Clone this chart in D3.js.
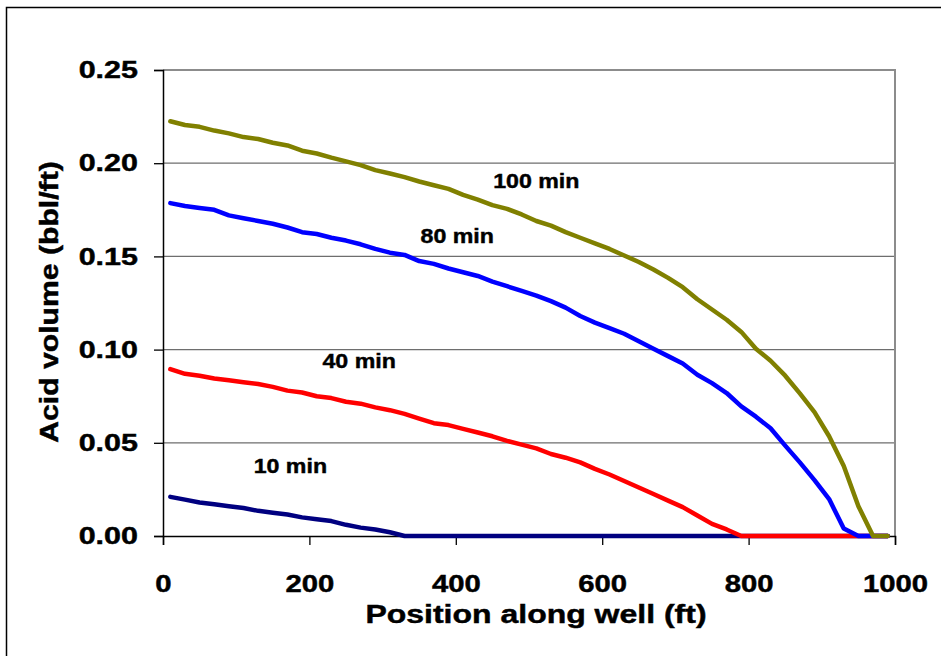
<!DOCTYPE html>
<html>
<head>
<meta charset="utf-8">
<script src="https://cdn.jsdelivr.net/npm/d3@7"></script>
<style>
  html, body { margin: 0; padding: 0; background: #fff; }
  svg { display: block; font-family: "Liberation Sans", Arial, sans-serif; }
  .heavy { stroke: #000; stroke-width: 0.45px; paint-order: stroke; }
</style>
</head>
<body>
<svg id="chart" width="941" height="656"></svg>
<script>
// Position along the well (ft) at which acid volume was computed
const positions = [10, 30, 50, 70, 90, 110, 130, 150, 170, 190,
  210, 230, 250, 270, 290, 310, 330, 350, 370, 390,
  410, 430, 450, 470, 490, 510, 530, 550, 570, 590,
  610, 630, 650, 670, 690, 710, 730, 750, 770, 790,
  810, 830, 850, 870, 890, 910, 930, 950, 970, 990];

// Acid volume per foot (bbl/ft) at each injection time
const acid10min = [0.0210, 0.0195, 0.0180, 0.0170, 0.0160, 0.0150, 0.0135, 0.0125, 0.0115, 0.0100,
  0.0090, 0.0080, 0.0060, 0.0045, 0.0035, 0.0020, 0, 0, 0, 0,
  0, 0, 0, 0, 0, 0, 0, 0, 0, 0,
  0, 0, 0, 0, 0, 0, 0, 0, 0, 0,
  0, 0, 0, 0, 0, 0, 0, 0, 0, 0];

const acid40min = [0.0895, 0.0870, 0.0860, 0.0845, 0.0835, 0.0825, 0.0815, 0.0800, 0.0780, 0.0770,
  0.0750, 0.0740, 0.0720, 0.0710, 0.0690, 0.0675, 0.0655, 0.0630, 0.0605, 0.0595,
  0.0575, 0.0555, 0.0535, 0.0510, 0.0490, 0.0470, 0.0440, 0.0420, 0.0395, 0.0360,
  0.0330, 0.0295, 0.0260, 0.0225, 0.0190, 0.0155, 0.0110, 0.0065, 0.0035, 0,
  0, 0, 0, 0, 0, 0, 0, 0, 0, 0];

const acid80min = [0.1786, 0.1770, 0.1760, 0.1750, 0.1720, 0.1705, 0.1690, 0.1675, 0.1655, 0.1630,
  0.1620, 0.1600, 0.1585, 0.1565, 0.1540, 0.1520, 0.1508, 0.1475, 0.1460, 0.1435,
  0.1415, 0.1395, 0.1365, 0.1340, 0.1315, 0.1290, 0.1260, 0.1225, 0.1180, 0.1145,
  0.1115, 0.1085, 0.1045, 0.1005, 0.0965, 0.0925, 0.0865, 0.0820, 0.0767, 0.0695,
  0.0640, 0.0578, 0.0485, 0.0395, 0.0300, 0.0198, 0.0040, 0, 0, 0];

const acid100min = [0.2225, 0.2205, 0.2195, 0.2175, 0.2160, 0.2140, 0.2130, 0.2110, 0.2095, 0.2067,
  0.2052, 0.2030, 0.2010, 0.1990, 0.1963, 0.1945, 0.1925, 0.1902, 0.1882, 0.1862,
  0.1830, 0.1805, 0.1775, 0.1755, 0.1725, 0.1690, 0.1665, 0.1630, 0.1600, 0.1570,
  0.1540, 0.1505, 0.1470, 0.1430, 0.1385, 0.1335, 0.1270, 0.1215, 0.1160, 0.1095,
  0.1005, 0.0940, 0.0860, 0.0765, 0.0665, 0.0535, 0.0375, 0.0160, 0, 0];

const xTicks = [0, 200, 400, 600, 800, 1000];
const yTicks = [0, 0.05, 0.10, 0.15, 0.20, 0.25];

const seriesNames = ["10 min", "40 min", "80 min", "100 min"];
const seriesValues = [acid10min, acid40min, acid80min, acid100min];
const seriesColors = ["#000080", "#ff0000", "#0000ff", "#808000"];
// Where each curve's time label sits, in data units (ft, bbl/ft)
const labelAnchors = [[174, 0.0338], [268, 0.0901], [402, 0.1572], [510, 0.1867]];

const svg = d3.select("#chart");
const plotLeft = 163, plotRight = 895, plotTop = 70, plotBottom = 536;

const x = d3.scaleLinear().domain([0, 1000]).range([plotLeft, plotRight]);
const y = d3.scaleLinear().domain([0, 0.25]).range([plotBottom, plotTop]);

// Outer chart frame
svg.append("rect")
  .attr("x", 6.5).attr("y", 7.5).attr("width", 1000).attr("height", 700)
  .attr("fill", "none").attr("stroke", "#000").attr("stroke-width", 1.5);

// Horizontal gridlines
svg.append("g").selectAll("line")
  .data(yTicks.filter(d => d > 0 && d < 0.25))
  .join("line")
  .attr("x1", plotLeft).attr("x2", plotRight)
  .attr("y1", d => y(d)).attr("y2", d => y(d))
  .attr("stroke", "#6e6e6e").attr("stroke-width", 1.3);

// Plot area border: top and right in grey
svg.append("path")
  .attr("d", `M${plotLeft},${y(0.25)}H${plotRight}V${plotBottom}`)
  .attr("fill", "none").attr("stroke", "#8c8c8c").attr("stroke-width", 2);

// Widen text horizontally to the chart's wide bold lettering
function widen(sel, k) {
  sel.each(function () {
    const w = this.getComputedTextLength();
    d3.select(this).attr("textLength", w * k).attr("lengthAdjust", "spacingAndGlyphs");
  });
}

// Axes
const xAxis = svg.append("g")
  .attr("transform", `translate(0,${plotBottom})`)
  .call(d3.axisBottom(x).tickValues(xTicks).tickFormat(d3.format("d")).tickSize(9).tickPadding(30));
const yAxis = svg.append("g")
  .attr("transform", `translate(${plotLeft},0)`)
  .call(d3.axisLeft(y).tickValues(yTicks).tickFormat(d3.format(".2f")).tickSize(9).tickPadding(16));

[xAxis, yAxis].forEach(a => {
  a.select(".domain").attr("stroke", "#000").attr("stroke-width", 1.5);
  a.selectAll(".tick line").attr("stroke", "#000").attr("stroke-width", 1.3);
  a.selectAll("text")
    .attr("fill", "#000")
    .attr("class", "heavy")
    .style("font-family", '"Liberation Sans", Arial, sans-serif')
    .style("font-weight", "bold")
    .style("font-size", "24px");
});
xAxis.selectAll("text").call(widen, 1.22);
yAxis.selectAll("text").call(widen, 1.27);

// Curves
const line = d3.line()
  .x((d, i) => x(positions[i]))
  .y(d => y(d));

svg.append("g").selectAll("path")
  .data(seriesValues)
  .join("path")
  .attr("d", line)
  .attr("fill", "none")
  .attr("stroke", (d, i) => seriesColors[i])
  .attr("stroke-width", 4.5)
  .attr("stroke-linejoin", "round")
  .attr("stroke-linecap", "round");

// Curve labels
svg.append("g").selectAll("text")
  .data(seriesNames)
  .join("text")
  .attr("class", "heavy")
  .attr("x", (d, i) => x(labelAnchors[i][0]))
  .attr("y", (d, i) => y(labelAnchors[i][1]))
  .attr("text-anchor", "middle")
  .style("font-weight", "bold")
  .style("font-size", "20.5px")
  .attr("fill", "#000")
  .text(d => d)
  .call(widen, 1.13);

// Axis titles
svg.append("text")
  .attr("class", "heavy")
  .attr("x", 536).attr("y", 623)
  .attr("text-anchor", "middle")
  .style("font-weight", "bold")
  .style("font-size", "26px")
  .text("Position along well (ft)")
  .call(widen, 1.23);

svg.append("text")
  .attr("class", "heavy")
  .attr("transform", "translate(58,302) rotate(-90)")
  .attr("text-anchor", "middle")
  .style("font-weight", "bold")
  .style("font-size", "26px")
  .text("Acid volume (bbl/ft)")
  .call(widen, 1.16);
</script>
</body>
</html>
